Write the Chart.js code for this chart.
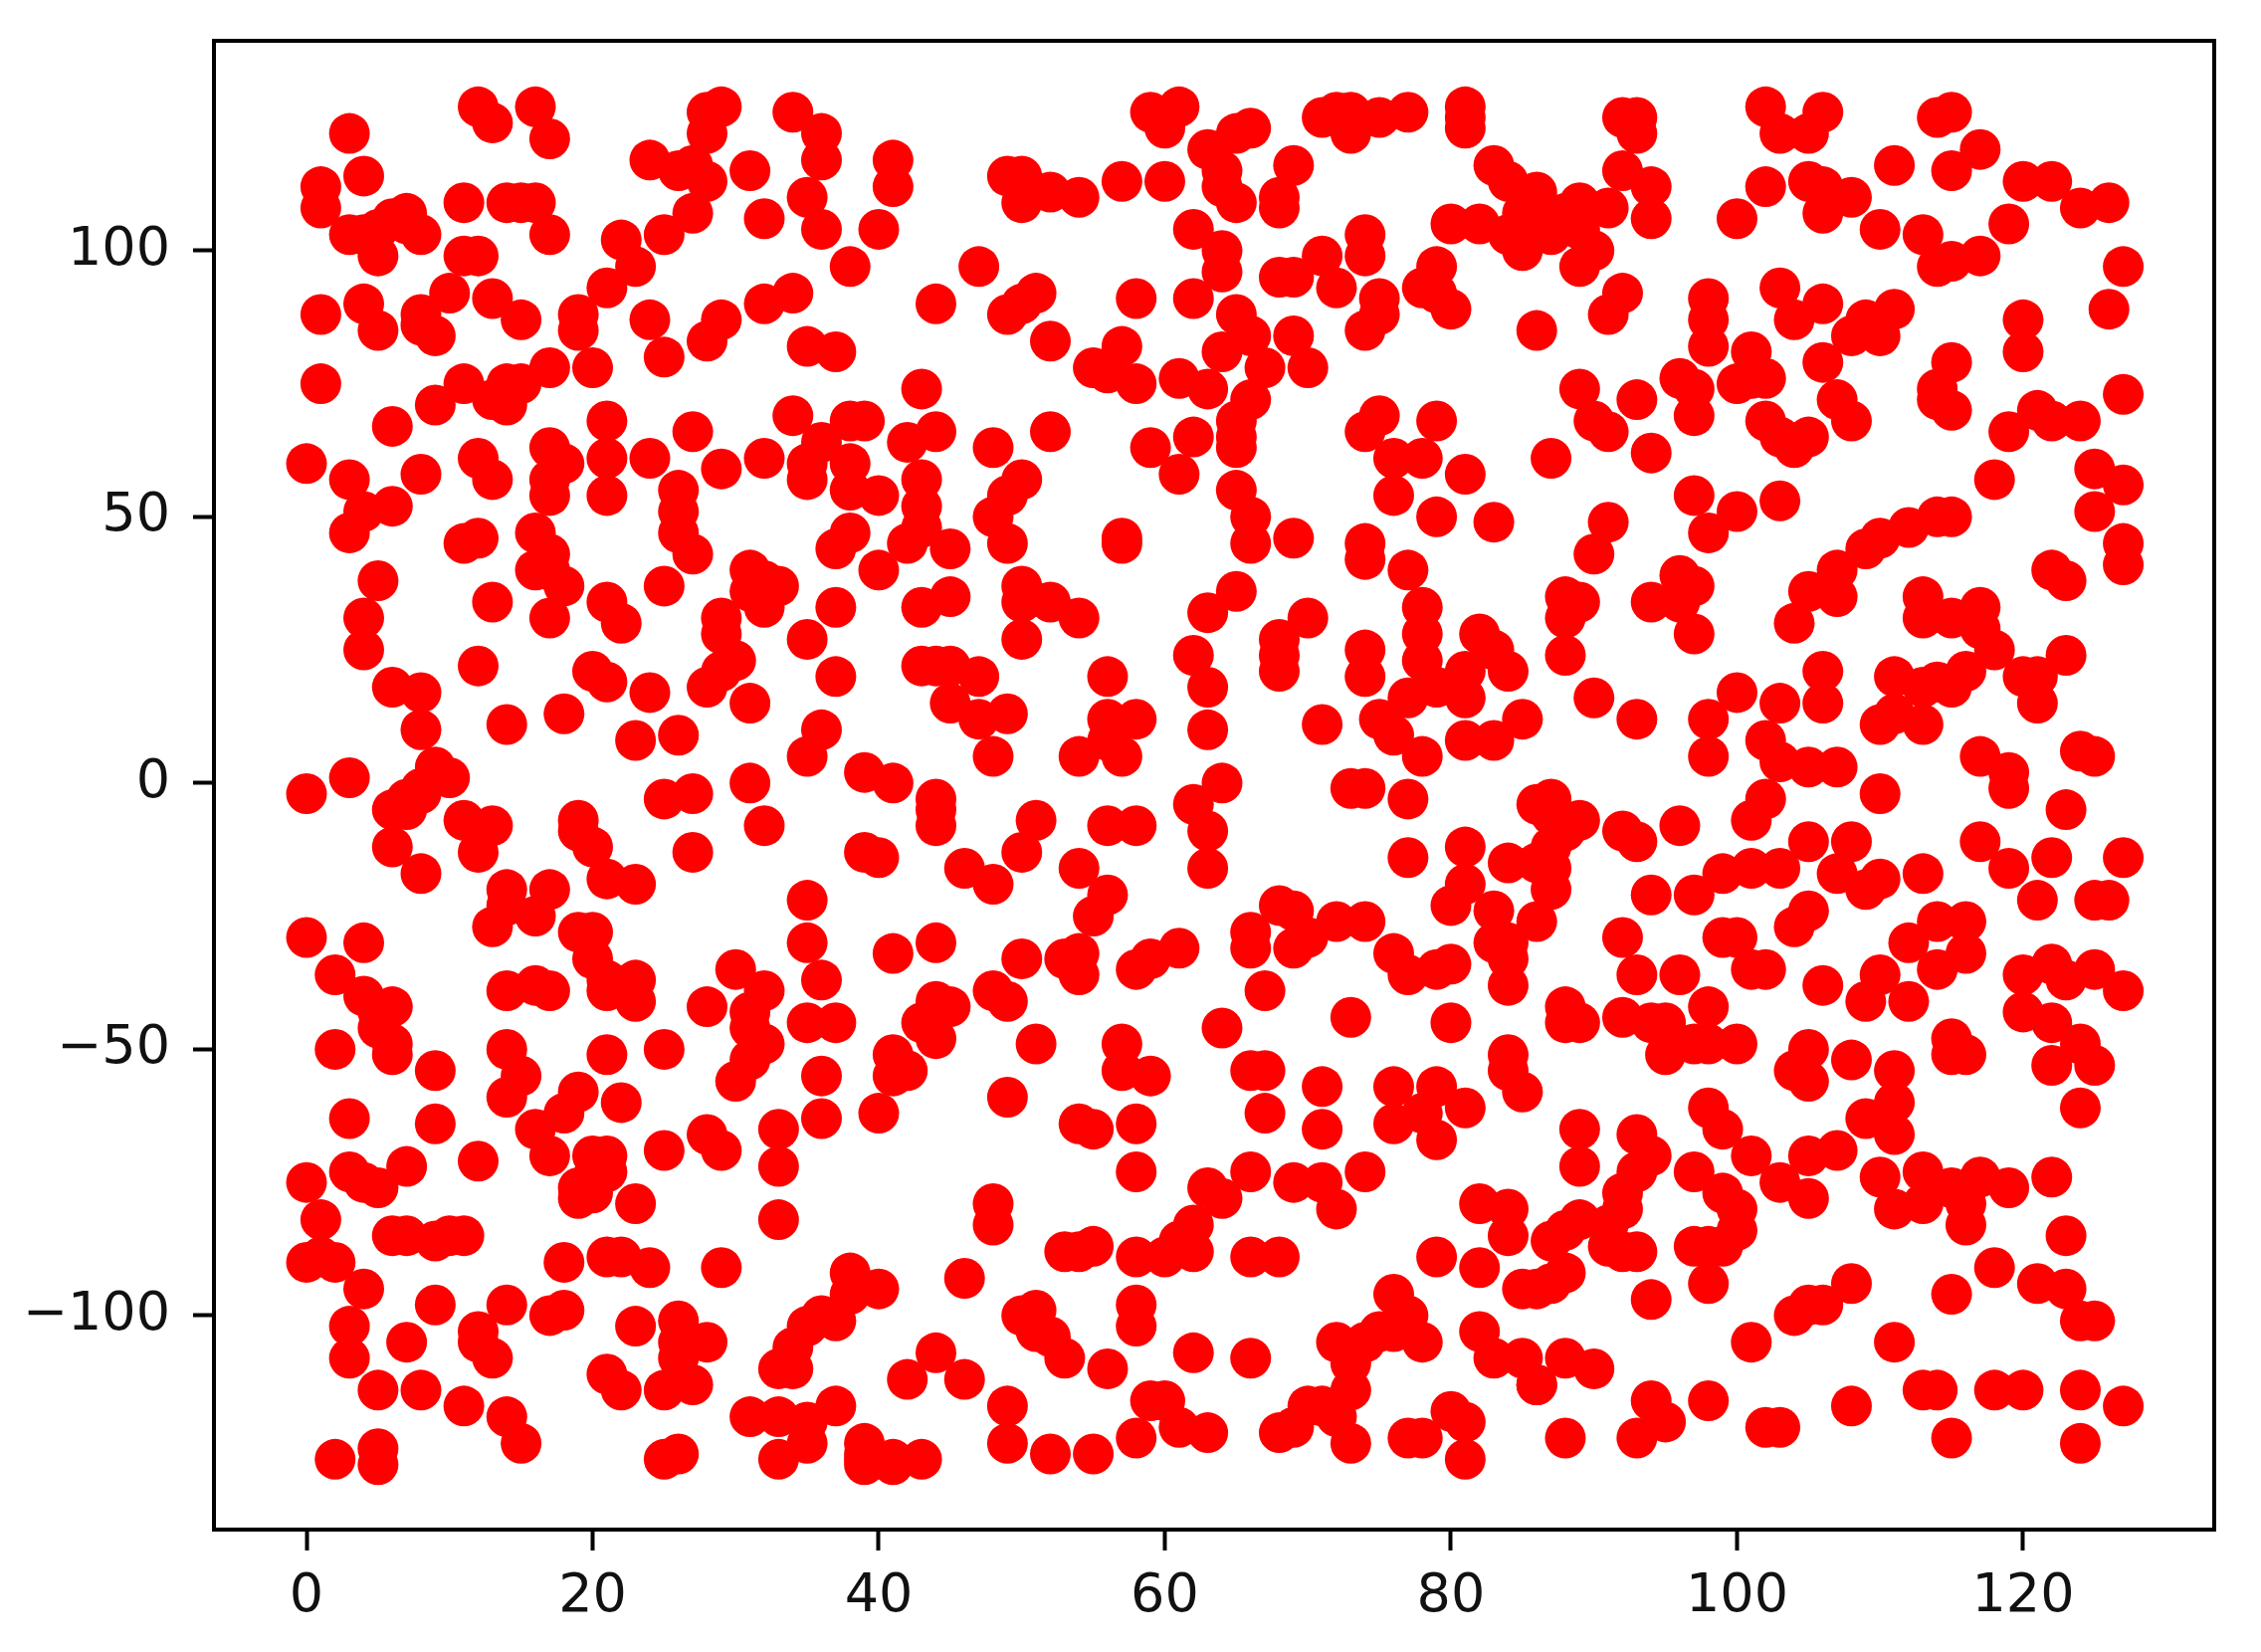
<!DOCTYPE html>
<html>
<head>
<meta charset="utf-8">
<style>
  html, body { margin: 0; padding: 0; background: #fff; }
  canvas { display: block; }
</style>
<script src="https://cdn.jsdelivr.net/npm/chart.js@4"></script>
</head>
<body>
<canvas id="chart" width="2272" height="1660"></canvas>
<script>
// tick values
const xTicks = [0, 20, 40, 60, 80, 100, 120];
const yTicks = [-100, -50, 0, 50, 100];

// points, [x, y], one list per part of the plot
const upperLeft = [[3,122],[4,114],[1,112],[1,108],[12,127],[13,124],[16,127],[17,121],[11,109],[14,109],[16,109],[15,109],[17,103],
  [3,103],[4,103],[5,104],[5,99],[6,106],[7,107],[7,105],[8,103],[11,99],[12,99],[1,88],[4,90],[5,85],[8,88],[9,84],[10,92],[8,86],
  [13,91],[15,87],[19,88],[19,85],[21,93],[23,97],[22,102],[24,87],[25,80],[28,83],[29,87],[32,90],[34,92],[35,82],[37,81],
  [25,103],[27,107],[24,117],[26,115],[27,116],[28,113],[28,122],[28,126],[29,127],[31,115],[32,106],[34,126],[36,122],[36,117],
  [35,110],[36,104],[40,104],[38,97],[41,117],[41,112],[1,75],[17,78],[20,78],[11,75],[9,71],[6,67],[13,72],[14,75],[15,75],[14,71],
  [21,68],[21,61],[21,54],[24,61],[27,66],[29,59],[32,61],[34,69],[36,64],[38,68],[39,68],[35,57],[35,60],[38,60],[38,55],[40,54],
  [38,47],[37,44],[40,40],[26,55],[26,51],[26,47],[27,43],[0,60],[3,57],[8,58],[6,52],[4,51],[3,47],[12,61],[13,57],[17,63],[18,60],
  [17,54],[17,57],[11,45],[12,46],[16,47],[17,43],[16,40],[17,40],[18,37],[5,38],[13,34],[17,31],[21,34],[22,30],[25,37],
  [31,40],[32,38],[33,37],[31,36],[32,33],[29,31],[29,28],[30,23],[28,18],[31,15],[29,21],[37,33],[35,27],[37,20],[4,31],[4,25],
  [12,22],[20,21],[21,19],[24,17],[6,18],[8,17],[14,11],[18,13],[23,8],[26,9],[8,10],[36,10],[35,5],[39,2],[41,0],[31,0],[9,3],[10,1]];

const lowerLeft = [[0,-2],[3,1],[8,-1],[7,-3],[6,-5],[7,-5],[8,-2],[11,-7],[13,-8],[12,-13],[6,-12],[8,-17],[19,-7],[20,-12],[21,-18],
  [23,-19],[19,-9],[25,-3],[27,-2],[32,-8],[27,-13],[39,-13],[40,-14],[35,-22],[35,-30],[36,-37],[35,-45],[37,-45],[41,-32],[41,-51],
  [41,-55],[40,-62],[36,-55],[36,-63],[33,-65],[33,-72],[33,-82],[14,-20],[17,-20],[16,-25],[13,-27],[14,-23],[0,-29],[4,-30],[2,-36],
  [4,-40],[6,-42],[5,-46],[6,-51],[6,-49],[5,-43],[2,-50],[9,-54],[3,-63],[9,-64],[12,-71],[14,-50],[15,-55],[14,-59],[19,-28],[20,-28],
  [20,-33],[21,-37],[23,-37],[23,-41],[21,-39],[14,-39],[16,-38],[17,-39],[21,-51],[25,-50],[19,-58],[22,-60],[18,-62],[16,-65],[17,-70],
  [28,-42],[30,-35],[32,-39],[31,-43],[31,-46],[32,-49],[31,-52],[30,-56],[25,-69],[28,-66],[29,-69],[21,-70],[20,-70],[21,-73],[20,-74],
  [19,-78],[19,-76],[20,-77],[23,-79],[0,-75],[3,-73],[4,-75],[5,-76],[7,-72],[1,-82],[0,-90],[2,-90],[1,-89],[6,-85],[7,-85],[9,-86],
  [10,-85],[11,-85],[18,-90],[21,-89],[22,-89],[24,-91],[29,-91],[4,-95],[3,-102],[3,-108],[9,-98],[7,-105],[14,-98],[12,-103],[12,-105],
  [13,-108],[17,-100],[18,-99],[23,-102],[26,-101],[28,-105],[26,-105],[26,-108],[27,-113],[25,-114],[21,-111],[22,-114],[5,-114],[8,-114],
  [11,-117],[14,-119],[15,-124],[2,-127],[5,-125],[5,-128],[25,-127],[26,-126],[38,-92],[40,-95],[38,-96],[37,-101],[35,-102],[36,-100],
  [34,-106],[33,-110],[34,-110],[37,-117],[31,-119],[33,-119],[35,-120],[35,-124],[33,-127],[39,-124],[39,-127],[41,-127]];

const upperMiddle = [[47,97],[44,90],[49,88],[50,90],[51,92],[52,83],[49,114],[50,114],[50,109],[50,112],[52,111],[54,110],[57,113],[60,113],
  [59,126],[61,127],[60,123],[63,119],[65,122],[66,123],[64,115],[64,112],[65,109],[69,116],[68,108],[68,110],[71,125],[72,126],[73,126],
  [73,122],[75,125],[77,126],[81,127],[81,123],[81,125],[83,116],[84,113],[86,110],[85,107],[80,105],[82,105],[84,103],[85,100],[86,104],
  [62,104],[64,100],[64,96],[62,91],[58,91],[68,95],[69,95],[71,99],[72,93],[74,103],[74,99],[75,91],[74,85],[75,88],[79,97],[78,93],[80,89],
  [79,92],[86,85],[65,88],[66,84],[64,81],[67,78],[69,84],[70,78],[57,82],[55,78],[58,75],[56,77],[61,76],[63,74],[66,72],[65,68],[65,63],
  [65,65],[43,74],[42,64],[44,66],[43,57],[43,52],[42,45],[45,44],[43,48],[48,63],[52,66],[50,57],[49,54],[48,50],[49,45],[57,46],[57,45],
  [59,63],[62,65],[61,58],[65,55],[66,50],[66,45],[69,46],[75,69],[74,66],[79,68],[76,61],[78,61],[81,58],[76,54],[79,50],[83,49],[74,45],
  [74,42],[77,40],[78,33],[78,28],[78,23],[82,28],[83,25],[84,21],[81,21],[81,16],[79,18],[77,16],[75,12],[76,9],[78,5],[85,12],[81,8],[83,8],
  [71,11],[70,31],[68,27],[68,21],[68,24],[63,32],[65,36],[74,25],[74,20],[62,24],[63,18],[63,10],[56,20],[50,37],[50,34],[52,34],[54,31],
  [50,27],[43,33],[45,35],[43,22],[45,22],[47,20],[45,15],[47,12],[49,13],[44,22],[48,5],[56,12],[58,12],[54,5],[57,5],[56,8],[64,0]];

const lowerMiddle = [[44,-3],[44,-5],[44,-8],[51,-7],[50,-13],[46,-16],[48,-19],[56,-8],[58,-8],[54,-16],[56,-21],[55,-25],[62,-4],[63,-9],
  [63,-16],[74,-1],[73,-1],[77,-3],[77,-14],[81,-12],[81,-19],[80,-23],[84,-15],[83,-24],[84,-30],[83,-30],[84,-38],[84,-33],[44,-30],[50,-33],
  [53,-33],[54,-32],[54,-36],[58,-35],[59,-33],[61,-31],[44,-41],[45,-42],[43,-45],[44,-48],[48,-39],[49,-41],[51,-49],[42,-54],[49,-59],
  [57,-49],[57,-54],[59,-55],[54,-64],[55,-65],[58,-64],[58,-73],[66,-28],[66,-31],[68,-23],[69,-24],[69,-31],[70,-29],[72,-26],[74,-26],
  [67,-39],[64,-46],[73,-44],[80,-45],[76,-32],[77,-36],[79,-35],[80,-34],[66,-54],[67,-54],[67,-62],[71,-57],[71,-65],[76,-57],[76,-64],
  [79,-57],[78,-62],[79,-67],[81,-61],[84,-51],[84,-54],[85,-58],[66,-73],[63,-76],[64,-78],[69,-75],[71,-75],[72,-80],[74,-73],[48,-79],
  [48,-83],[53,-88],[54,-88],[55,-87],[58,-89],[60,-89],[62,-83],[62,-88],[61,-86],[66,-89],[68,-89],[46,-93],[50,-100],[51,-99],[51,-103],
  [52,-104],[53,-108],[56,-110],[58,-98],[58,-102],[62,-107],[66,-108],[44,-107],[42,-112],[46,-112],[49,-117],[49,-124],[52,-126],[55,-126],
  [58,-123],[59,-116],[60,-116],[61,-121],[63,-122],[39,-126],[39,-128],[41,-128],[43,-127],[68,-122],[69,-121],[70,-117],[71,-117],[72,-119],
  [73,-114],[73,-124],[72,-105],[74,-105],[76,-96],[77,-100],[76,-103],[78,-105],[73,-109],[75,-103],[77,-123],[78,-123],[80,-118],[81,-120],
  [81,-127],[82,-79],[84,-80],[84,-85],[79,-89],[82,-91],[85,-95],[82,-103],[83,-108],[85,-108],[86,-113]];

const upperRight = [[92,125],[93,125],[93,122],[92,115],[94,112],[94,106],[91,108],[89,109],[86,111],[88,107],[87,103],[89,104],[90,100],[89,97],
  [91,88],[92,92],[102,127],[103,122],[105,122],[106,126],[102,112],[100,106],[105,113],[106,112],[108,110],[106,107],[110,104],[111,116],
  [114,125],[115,126],[117,119],[115,115],[120,113],[122,113],[124,108],[126,109],[119,105],[113,103],[114,97],[115,98],[117,99],[127,97],
  [126,89],[120,87],[120,81],[103,93],[104,87],[106,90],[98,91],[98,87],[98,82],[109,87],[111,89],[108,84],[110,84],[115,79],[114,74],[115,70],
  [114,72],[101,81],[100,75],[102,76],[101,76],[106,79],[107,72],[108,68],[89,74],[93,72],[90,68],[91,66],[94,62],[87,61],[96,76],[97,74],[97,69],
  [102,68],[103,65],[104,63],[105,65],[97,54],[100,51],[103,53],[98,47],[91,49],[90,43],[115,50],[114,50],[112,48],[110,46],[109,44],[118,57],
  [125,59],[127,56],[125,51],[127,45],[127,41],[122,40],[123,38],[119,66],[121,70],[122,68],[124,68],[127,73],[113,35],[113,31],[117,33],[115,31],
  [117,29],[118,25],[116,21],[115,18],[111,20],[113,18],[114,19],[123,24],[121,20],[121,15],[120,20],[117,5],[119,2],[124,6],[125,5],[110,11],
  [111,13],[113,11],[106,21],[106,15],[104,30],[105,36],[107,40],[107,35],[94,34],[96,39],[97,37],[96,34],[97,28],[88,35],[89,34],[88,31],[88,24],
  [90,16],[93,12],[98,12],[98,5],[100,17],[103,15],[102,8],[103,4],[105,3],[107,3]];

const lowerRight = [[87,-3],[86,-4],[87,-6],[88,-9],[89,-7],[86,-15],[87,-16],[87,-20],[86,-26],[87,-12],[92,-9],[93,-11],[96,-8],[94,-21],[97,-21],
  [99,-17],[101,-16],[103,-16],[101,-7],[102,-3],[105,-11],[108,-11],[107,-17],[109,-20],[110,-18],[110,-2],[113,-17],[117,-11],[119,-16],
  [121,-22],[122,-14],[123,-5],[119,-1],[127,-14],[125,-22],[126,-22],[92,-29],[99,-29],[100,-29],[101,-35],[102,-35],[104,-27],[105,-24],[93,-36],
  [96,-36],[106,-38],[110,-36],[109,-41],[112,-41],[112,-30],[114,-26],[116,-26],[114,-35],[116,-32],[120,-36],[120,-43],[122,-34],[123,-37],
  [125,-35],[127,-39],[122,-45],[124,-49],[125,-53],[122,-53],[124,-61],[88,-42],[89,-45],[88,-45],[92,-44],[95,-45],[94,-45],[95,-51],[98,-42],
  [97,-49],[98,-49],[100,-49],[105,-50],[108,-52],[104,-54],[105,-56],[115,-48],[115,-51],[116,-51],[111,-54],[111,-60],[109,-63],[111,-66],
  [98,-61],[99,-65],[89,-65],[89,-72],[93,-66],[94,-70],[93,-73],[92,-77],[97,-73],[99,-77],[100,-80],[100,-84],[99,-87],[97,-87],[98,-87],
  [101,-70],[103,-75],[105,-78],[105,-70],[107,-69],[110,-74],[111,-80],[113,-73],[113,-79],[115,-76],[116,-83],[117,-74],[119,-76],[116,-79],
  [122,-74],[123,-85],[118,-91],[115,-96],[121,-94],[123,-95],[124,-101],[125,-101],[108,-94],[106,-98],[105,-98],[104,-100],[101,-105],[111,-105],
  [94,-97],[98,-94],[89,-82],[88,-84],[87,-86],[88,-92],[87,-94],[86,-95],[91,-83],[91,-87],[92,-80],[93,-88],[92,-88],[94,-116],[95,-120],[93,-123],
  [98,-116],[88,-108],[90,-110],[86,-113],[88,-123],[102,-121],[103,-121],[108,-117],[113,-114],[114,-114],[118,-114],[120,-114],[124,-114],
  [127,-117],[115,-123],[124,-124]];

const allPoints = [...upperLeft, ...lowerLeft, ...upperMiddle, ...lowerMiddle, ...upperRight, ...lowerRight]
  .map(p => ({ x: p[0], y: p[1] }));

// top and right side of the frame, chart.js only gives the two axis lines
const frame = {
  id: "frame",
  afterDraw(chart) {
    const { ctx, chartArea: a } = chart;
    ctx.save();
    ctx.strokeStyle = "#000";
    ctx.lineWidth = 4;
    ctx.strokeRect(a.left, a.top, a.right - a.left, a.bottom - a.top);
    ctx.restore();
  }
};

const tickFont = { family: "'DejaVu Sans'", size: 54 };

new Chart(document.getElementById("chart"), {
  type: "scatter",
  data: {
    datasets: [{
      data: allPoints,
      backgroundColor: "#ff0000",
      borderWidth: 0,
      pointRadius: 20.5
    }]
  },
  options: {
    responsive: false,
    animation: false,
    layout: { padding: { top: 41, right: 47, bottom: 0, left: 0 } },
    plugins: { legend: { display: false }, tooltip: { enabled: false } },
    scales: {
      x: {
        min: -6.47,
        max: 133.36,
        afterBuildTicks(axis) { axis.ticks = xTicks.map(v => ({ value: v })); },
        afterFit(axis) {
          axis.height = 123;
          axis.paddingLeft = 0;
          axis.paddingRight = 0;
        },
        grid: { drawOnChartArea: false, tickLength: 21, tickWidth: 4, tickColor: "#000" },
        border: { color: "#000", width: 4 },
        ticks: { color: "#111", font: tickFont, maxRotation: 0, padding: 15 }
      },
      y: {
        min: -140.2,
        max: 139.4,
        afterBuildTicks(axis) { axis.ticks = yTicks.map(v => ({ value: v })); },
        afterFit(axis) {
          axis.width = 215;
          axis.paddingTop = 0;
          axis.paddingBottom = 0;
        },
        grid: { drawOnChartArea: false, tickLength: 21, tickWidth: 4, tickColor: "#000" },
        border: { color: "#000", width: 4 },
        ticks: {
          color: "#111",
          font: tickFont,
          padding: 23,
          callback: v => String(v).replace("-", "\u2212")
        }
      }
    }
  },
  plugins: [frame]
});
</script>
</body>
</html>
